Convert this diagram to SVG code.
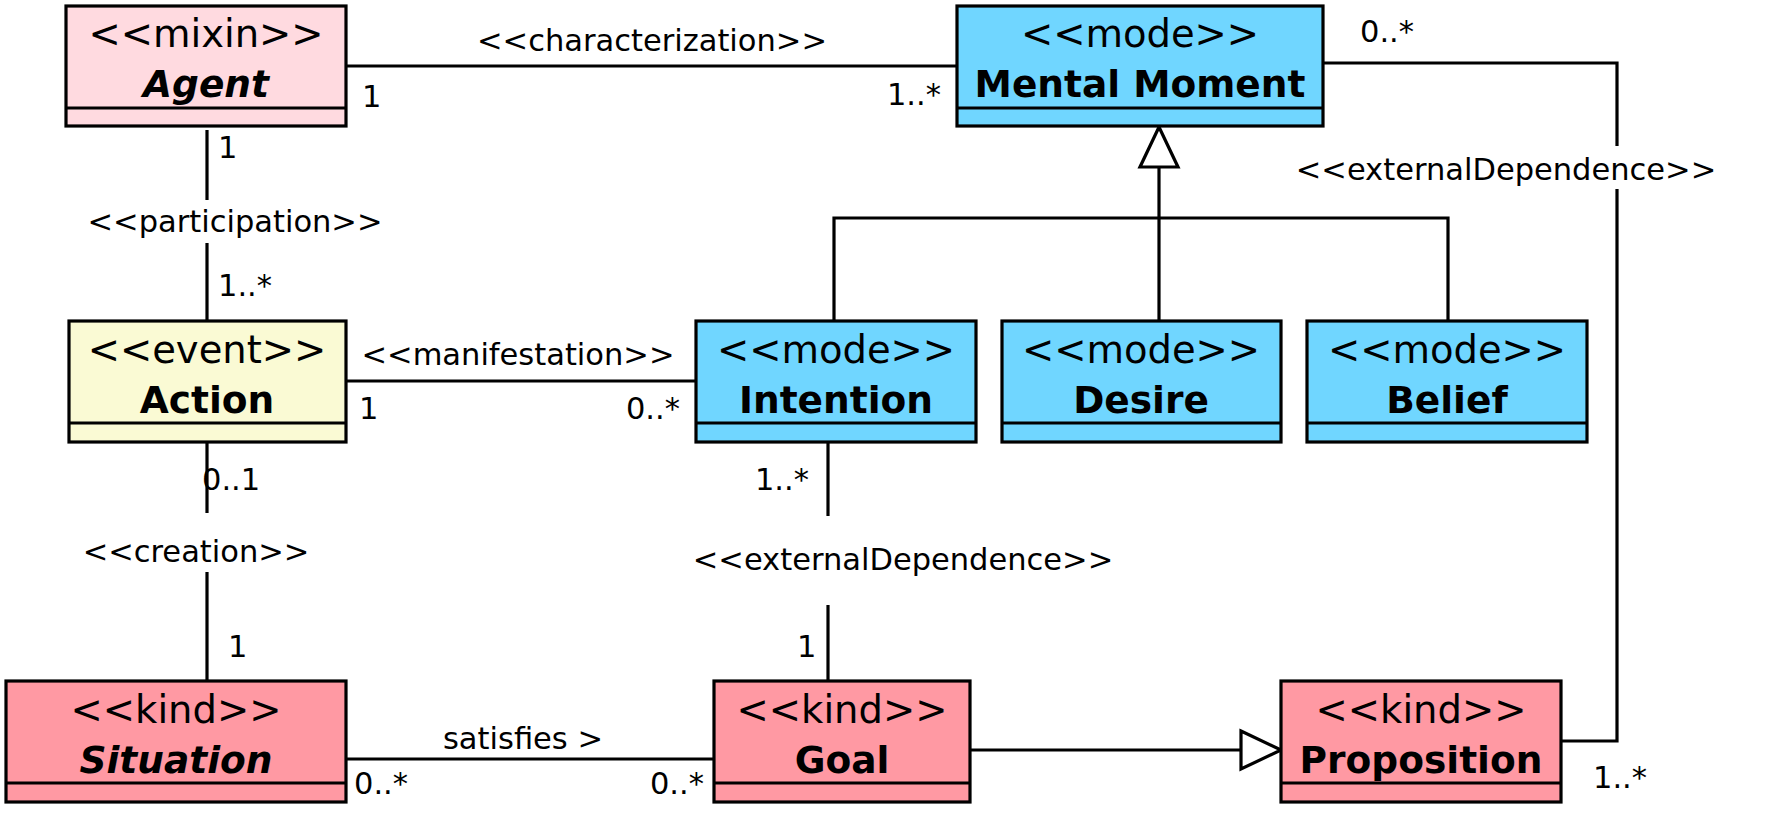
<svg xmlns="http://www.w3.org/2000/svg" width="1767" height="819" viewBox="0 0 1767 819">
<style>
.box{stroke:#000;stroke-width:3.2}
.div{stroke:#000;stroke-width:3.2}
.st{font-family:"DejaVu Sans",sans-serif;font-size:38.5px;text-anchor:middle;fill:#000}
.nm{font-family:"DejaVu Sans",sans-serif;font-size:37.5px;font-weight:bold;text-anchor:middle;fill:#000}
.it{font-style:italic}
.ln{fill:none;stroke:#000;stroke-width:3.2}
.lb{font-family:"DejaVu Sans",sans-serif;font-size:30.5px;fill:#000}
.c{text-anchor:middle}
.e{text-anchor:end}
.mixin{fill:#FFDAE0}
.event{fill:#FAFAD4}
.mode{fill:#70D6FF}
.kind{fill:#FF99A3}
.tri{fill:#fff;stroke:#000;stroke-width:3.2}
</style>
<rect width="1767" height="819" fill="#fff"/>
<g id="connectors">
  <!-- characterization -->
  <line class="ln" x1="346" y1="66" x2="957" y2="66"/>
  <text class="lb c" x="652" y="51">&lt;&lt;characterization&gt;&gt;</text>
  <text class="lb" x="362" y="107">1</text>
  <text class="lb e" x="941" y="105">1..*</text>
  <!-- participation -->
  <line class="ln" x1="207" y1="130" x2="207" y2="200"/>
  <line class="ln" x1="207" y1="243" x2="207" y2="321"/>
  <text class="lb" x="218" y="158">1</text>
  <text class="lb c" x="235" y="232">&lt;&lt;participation&gt;&gt;</text>
  <text class="lb" x="218" y="296">1..*</text>
  <!-- manifestation -->
  <line class="ln" x1="346" y1="381" x2="696" y2="381"/>
  <text class="lb c" x="518" y="365">&lt;&lt;manifestation&gt;&gt;</text>
  <text class="lb" x="359" y="419">1</text>
  <text class="lb e" x="680" y="419">0..*</text>
  <!-- creation -->
  <line class="ln" x1="207" y1="442" x2="207" y2="513"/>
  <line class="ln" x1="207" y1="572" x2="207" y2="681"/>
  <text class="lb" x="202" y="490">0..1</text>
  <text class="lb c" x="196" y="562">&lt;&lt;creation&gt;&gt;</text>
  <text class="lb" x="228" y="657">1</text>
  <!-- externalDependence Intention-Goal -->
  <line class="ln" x1="828" y1="442" x2="828" y2="516"/>
  <line class="ln" x1="828" y1="605" x2="828" y2="681"/>
  <text class="lb e" x="809" y="490">1..*</text>
  <text class="lb c" x="903" y="570">&lt;&lt;externalDependence&gt;&gt;</text>
  <text class="lb" x="797" y="657">1</text>
  <!-- satisfies -->
  <line class="ln" x1="346" y1="759" x2="714" y2="759"/>
  <text class="lb c" x="523" y="749">satisfies &gt;</text>
  <text class="lb" x="354" y="794">0..*</text>
  <text class="lb e" x="704" y="794">0..*</text>
  <!-- Goal generalizes Proposition -->
  <line class="ln" x1="970" y1="750" x2="1241" y2="750"/>
  <polygon class="tri" points="1241,731 1281,750 1241,769"/>
  <!-- externalDependence MentalMoment-Proposition -->
  <polyline class="ln" points="1323,63 1617,63 1617,146"/>
  <polyline class="ln" points="1617,189 1617,741 1561,741"/>
  <text class="lb" x="1360" y="42">0..*</text>
  <text class="lb c" x="1506" y="180">&lt;&lt;externalDependence&gt;&gt;</text>
  <text class="lb" x="1593" y="788">1..*</text>
  <!-- generalization set to Mental Moment -->
  <line class="ln" x1="1159" y1="167" x2="1159" y2="321"/>
  <polyline class="ln" points="834,321 834,218 1448,218 1448,321"/>
  <polygon class="tri" points="1159,127 1178,167 1140,167"/>
</g>
<g id="agent">
  <rect class="box mixin" x="66" y="6" width="280" height="120"/>
  <line class="div" x1="66" y1="108" x2="346" y2="108"/>
  <text class="st" x="206" y="47">&lt;&lt;mixin&gt;&gt;</text>
  <text class="nm it" x="206" y="97">Agent</text>
</g>
<g id="mental-moment">
  <rect class="box mode" x="957" y="6" width="366" height="120"/>
  <line class="div" x1="957" y1="108" x2="1323" y2="108"/>
  <text class="st" x="1140" y="47">&lt;&lt;mode&gt;&gt;</text>
  <text class="nm" x="1140" y="97">Mental Moment</text>
</g>
<g id="action">
  <rect class="box event" x="69" y="321" width="277" height="121"/>
  <line class="div" x1="69" y1="423" x2="346" y2="423"/>
  <text class="st" x="207" y="363">&lt;&lt;event&gt;&gt;</text>
  <text class="nm" x="207" y="413">Action</text>
</g>
<g id="intention">
  <rect class="box mode" x="696" y="321" width="280" height="121"/>
  <line class="div" x1="696" y1="423" x2="976" y2="423"/>
  <text class="st" x="836" y="363">&lt;&lt;mode&gt;&gt;</text>
  <text class="nm" x="836" y="413">Intention</text>
</g>
<g id="desire">
  <rect class="box mode" x="1002" y="321" width="279" height="121"/>
  <line class="div" x1="1002" y1="423" x2="1281" y2="423"/>
  <text class="st" x="1141" y="363">&lt;&lt;mode&gt;&gt;</text>
  <text class="nm" x="1141" y="413">Desire</text>
</g>
<g id="belief">
  <rect class="box mode" x="1307" y="321" width="280" height="121"/>
  <line class="div" x1="1307" y1="423" x2="1587" y2="423"/>
  <text class="st" x="1447" y="363">&lt;&lt;mode&gt;&gt;</text>
  <text class="nm" x="1447" y="413">Belief</text>
</g>
<g id="situation">
  <rect class="box kind" x="6" y="681" width="340" height="121"/>
  <line class="div" x1="6" y1="783" x2="346" y2="783"/>
  <text class="st" x="176" y="723">&lt;&lt;kind&gt;&gt;</text>
  <text class="nm it" x="176" y="773">Situation</text>
</g>
<g id="goal">
  <rect class="box kind" x="714" y="681" width="256" height="121"/>
  <line class="div" x1="714" y1="783" x2="970" y2="783"/>
  <text class="st" x="842" y="723">&lt;&lt;kind&gt;&gt;</text>
  <text class="nm" x="842" y="773">Goal</text>
</g>
<g id="proposition">
  <rect class="box kind" x="1281" y="681" width="280" height="121"/>
  <line class="div" x1="1281" y1="783" x2="1561" y2="783"/>
  <text class="st" x="1421" y="723">&lt;&lt;kind&gt;&gt;</text>
  <text class="nm" x="1421" y="773">Proposition</text>
</g>
</svg>
